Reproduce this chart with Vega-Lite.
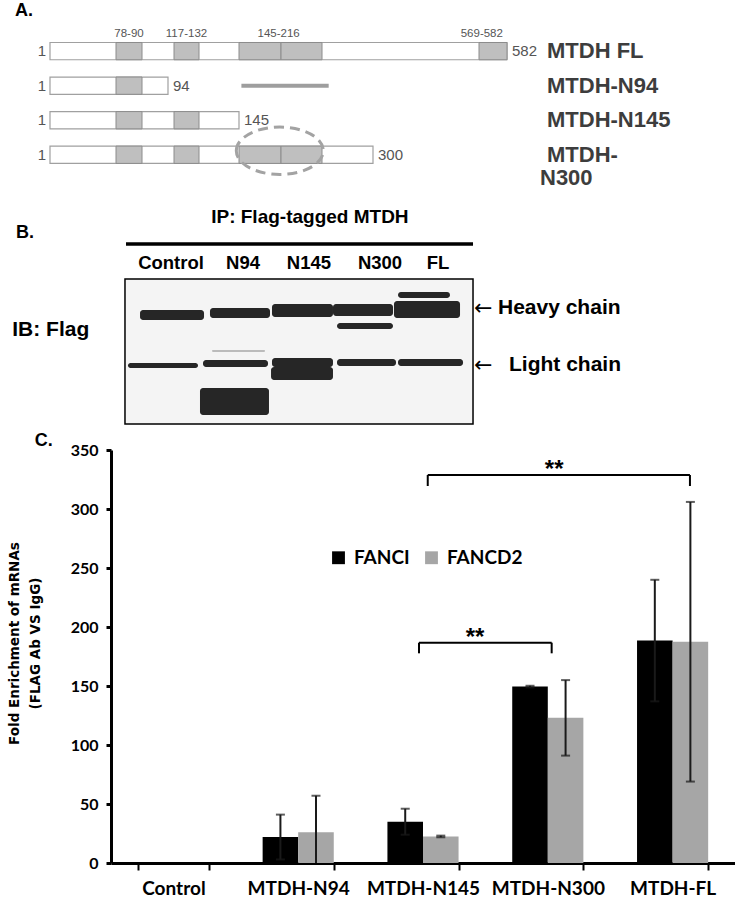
{
"$schema": "https://vega.github.io/schema/vega-lite/v6.json",
"padding": {"left": 7, "top": 0, "right": 0, "bottom": 0},
"spacing": 0,
"bounds": "flush",
"config": {"view": {"stroke": null}, "font": "Liberation Sans"},
"vconcat": [
{
  "width": 624, "height": 190,
  "data": {"values": [
    {"kind":"bar","construct":"MTDH FL","start":1,"end":582,"name":"MTDH FL"},
    {"kind":"bar","construct":"MTDH-N94","start":1,"end":94,"name":"MTDH-N94"},
    {"kind":"bar","construct":"MTDH-N145","start":1,"end":145,"name":"MTDH-N145"},
    {"kind":"bar","construct":"MTDH-N300","start":1,"end":300,"name":"MTDH-"},
    {"kind":"box","construct":"MTDH FL","start":78,"end":90},
    {"kind":"box","construct":"MTDH FL","start":117,"end":132},
    {"kind":"box","construct":"MTDH FL","start":145,"end":180},
    {"kind":"box","construct":"MTDH FL","start":180,"end":216},
    {"kind":"box","construct":"MTDH FL","start":569,"end":582},
    {"kind":"box","construct":"MTDH-N94","start":78,"end":90},
    {"kind":"box","construct":"MTDH-N145","start":78,"end":90},
    {"kind":"box","construct":"MTDH-N145","start":117,"end":132},
    {"kind":"box","construct":"MTDH-N300","start":78,"end":90},
    {"kind":"box","construct":"MTDH-N300","start":117,"end":132},
    {"kind":"box","construct":"MTDH-N300","start":145,"end":180},
    {"kind":"box","construct":"MTDH-N300","start":180,"end":216},
    {"kind":"line","construct":"MTDH-N94","start":147,"end":227},
    {"kind":"ellipse","construct":"MTDH-N300","start":179},
    {"kind":"range","construct":"MTDH FL","start":84,"label":"78-90"},
    {"kind":"range","construct":"MTDH FL","start":124.5,"label":"117-132"},
    {"kind":"range","construct":"MTDH FL","start":178,"label":"145-216"},
    {"kind":"range","construct":"MTDH FL","start":570.3,"label":"569-582"}
  ]},
  "encoding": {
    "x": {"field":"start","type":"quantitative","scale":{"domain":[1,78,90,94,117,132,145,180,216,300,569,582],"range":[-61,5,31,57,63,88,128,170,211,262,368,396],"zero":false,"nice":false},"axis":null},
    "y": {"field":"construct","type":"nominal","scale":{"domain":["MTDH FL","MTDH-N94","MTDH-N145","MTDH-N300"],"paddingInner":0.5,"paddingOuter":1.02,"align":0.615},"axis":null}
  },
  "layer": [
    {"transform":[{"filter":"datum.kind === 'bar'"}],
     "mark":{"type":"rect","fill":"white","stroke":"#a0a0a0","strokeWidth":1.2},
     "encoding":{"x2":{"field":"end"}}},
    {"transform":[{"filter":"datum.kind === 'box'"}],
     "mark":{"type":"rect","fill":"#bfbfbf","stroke":"#8c8c8c","strokeWidth":1},
     "encoding":{"x2":{"field":"end"}}},
    {"transform":[{"filter":"datum.kind === 'line'"}],
     "mark":{"type":"rule","strokeWidth":4,"color":"#9e9e9e"},
     "encoding":{"x2":{"field":"end"}}},
    {"transform":[{"filter":"datum.kind === 'ellipse'"}],
     "mark":{"type":"point","shape":"M -1 0 A 1 0.545 0 1 1 1 0 A 1 0.545 0 1 1 -1 0 Z","size":7569,"filled":false,"color":"#a3a3a3","strokeWidth":3,"strokeDash":[10,6],"opacity":1,"yOffset":-4}},
    {"transform":[{"filter":"datum.kind === 'bar'"}],
     "mark":{"type":"text","align":"right","baseline":"middle","dx":-4,"fontSize":15,"color":"#555555"},
     "encoding":{"text":{"field":"start"}}},
    {"transform":[{"filter":"datum.kind === 'bar'"}],
     "mark":{"type":"text","align":"left","baseline":"middle","dx":5,"fontSize":15,"color":"#555555"},
     "encoding":{"x":{"field":"end","type":"quantitative","scale":{"domain":[1,78,90,94,117,132,145,180,216,300,569,582],"range":[-61,5,31,57,63,88,128,170,211,262,368,396],"zero":false,"nice":false},"axis":null},"text":{"field":"end"}}},
    {"transform":[{"filter":"datum.kind === 'range'"}],
     "mark":{"type":"text","align":"center","baseline":"middle","dy":-17,"fontSize":11.5,"color":"#555555"},
     "encoding":{"text":{"field":"label"}}},
    {"transform":[{"filter":"datum.kind === 'bar'"}],
     "mark":{"type":"text","align":"left","baseline":"middle","dx":40,"fontSize":22,"fontWeight":"bold","color":"#3d3d3d"},
     "encoding":{"x":{"datum":582,"type":"quantitative","scale":{"domain":[1,78,90,94,117,132,145,180,216,300,569,582],"range":[-61,5,31,57,63,88,128,170,211,262,368,396],"zero":false,"nice":false},"axis":null},"text":{"field":"name"}}},
    {"transform":[{"filter":"datum.kind === 'bar' && datum.construct === 'MTDH-N300'"}],
     "mark":{"type":"text","align":"left","baseline":"middle","dx":33,"dy":23,"fontSize":22,"fontWeight":"bold","color":"#3d3d3d"},
     "encoding":{"x":{"datum":582,"type":"quantitative","scale":{"domain":[1,78,90,94,117,132,145,180,216,300,569,582],"range":[-61,5,31,57,63,88,128,170,211,262,368,396],"zero":false,"nice":false},"axis":null},"text":{"value":"N300"}}},
    {"transform":[{"filter":"datum.kind === 'bar' && datum.construct === 'MTDH FL'"}],
     "mark":{"type":"text","align":"left","baseline":"middle","dx":-35,"dy":-40,"fontSize":18,"fontWeight":"bold","color":"black"},
     "encoding":{"text":{"value":"A."}}}
  ]
},
{
  "width": 624, "height": 260,
  "data": {"values": [
    {"kind":"frame","u0":-0.719,"u1":4.719,"m0":0,"m1":100},
    {"kind":"rule","u0":-0.703,"u1":4.719,"m0":-24.1},
    {"kind":"band","lane":"Control","band":"heavy","u0":-0.484,"u1":0.516,"m0":21.4,"m1":28.3,"intensity":1},
    {"kind":"band","lane":"N94","band":"heavy","u0":0.609,"u1":1.547,"m0":20.0,"m1":26.9,"intensity":1},
    {"kind":"band","lane":"N145","band":"heavy","u0":1.578,"u1":2.531,"m0":17.2,"m1":26.2,"intensity":1},
    {"kind":"band","lane":"N300","band":"heavy","u0":2.531,"u1":3.469,"m0":17.2,"m1":25.5,"intensity":1},
    {"kind":"band","lane":"FL","band":"heavy","u0":3.484,"u1":4.516,"m0":15.2,"m1":26.9,"intensity":1},
    {"kind":"band","lane":"FL","band":"MTDH-FL","u0":3.547,"u1":4.359,"m0":9.0,"m1":13.1,"intensity":1},
    {"kind":"band","lane":"N300","band":"MTDH-N300","u0":2.594,"u1":3.469,"m0":30.3,"m1":34.5,"intensity":1},
    {"kind":"band","lane":"Control","band":"light","u0":-0.672,"u1":0.422,"m0":57.9,"m1":61.4,"intensity":1},
    {"kind":"band","lane":"N94","band":"light","u0":0.5,"u1":1.516,"m0":55.9,"m1":60.7,"intensity":1},
    {"kind":"band","lane":"N145","band":"light","u0":1.578,"u1":2.531,"m0":54.5,"m1":60.7,"intensity":1},
    {"kind":"band","lane":"N300","band":"light","u0":2.594,"u1":3.516,"m0":55.2,"m1":60.0,"intensity":1},
    {"kind":"band","lane":"FL","band":"light","u0":3.547,"u1":4.563,"m0":55.2,"m1":60.0,"intensity":1},
    {"kind":"band","lane":"N145","band":"MTDH-N145","u0":1.563,"u1":2.531,"m0":60.7,"m1":69.7,"intensity":1},
    {"kind":"band","lane":"N94","band":"MTDH-N94","u0":0.453,"u1":1.531,"m0":75.2,"m1":93.8,"intensity":1},
    {"kind":"band","lane":"N94","band":"faint","u0":0.641,"u1":1.469,"m0":49.0,"m1":50.3,"intensity":0.25},
    {"kind":"lane","label":"Control","u0":0,"m0":-11},
    {"kind":"lane","label":"N94","u0":1.125,"m0":-11},
    {"kind":"lane","label":"N145","u0":2.156,"m0":-11},
    {"kind":"lane","label":"N300","u0":3.266,"m0":-11},
    {"kind":"lane","label":"FL","u0":4.172,"m0":-11},
    {"kind":"title","label":"IP: Flag-tagged MTDH","u0":2.17,"m0":-42.8},
    {"kind":"panel","label":"B.","u0":-2.42,"m0":-31.7},
    {"kind":"side","label":"IB: Flag","u0":-2.48,"m0":35.2},
    {"kind":"side","label":"Heavy chain","u0":5.109,"m0":20},
    {"kind":"side","label":"Light chain","u0":5.281,"m0":59.3},
    {"kind":"arrow","label":"←","u0":4.734,"m0":20},
    {"kind":"arrow","label":"←","u0":4.734,"m0":59.3}
  ]},
  "encoding": {
    "x": {"field":"u0","type":"quantitative","scale":{"domain":[-0.9375,8.8125],"zero":false,"nice":false},"axis":null},
    "y": {"field":"m0","type":"quantitative","scale":{"domain":[-61.4,117.9],"reverse":true,"zero":false,"nice":false},"axis":null}
  },
  "layer": [
    {"transform":[{"filter":"datum.kind === 'frame'"}],
     "mark":{"type":"rect","fill":"#f4f4f4","stroke":"black","strokeWidth":1.5},
     "encoding":{"x2":{"field":"u1"},"y2":{"field":"m1"}}},
    {"transform":[{"filter":"datum.kind === 'band'"}],
     "mark":{"type":"rect","cornerRadius":3},
     "encoding":{"x2":{"field":"u1"},"y2":{"field":"m1"},
       "color":{"field":"intensity","type":"quantitative","scale":{"domain":[0,1],"range":["#f4f4f4","#262626"]},"legend":null}}},
    {"transform":[{"filter":"datum.kind === 'rule'"}],
     "mark":{"type":"rule","strokeWidth":3.5,"color":"black"},
     "encoding":{"x2":{"field":"u1"}}},
    {"transform":[{"filter":"datum.kind === 'lane'"}],
     "mark":{"type":"text","align":"center","baseline":"middle","fontSize":18.5,"fontWeight":"bold","color":"black"},
     "encoding":{"text":{"field":"label"}}},
    {"transform":[{"filter":"datum.kind === 'title'"}],
     "mark":{"type":"text","align":"center","baseline":"middle","fontSize":19,"fontWeight":"bold","color":"black"},
     "encoding":{"text":{"field":"label"}}},
    {"transform":[{"filter":"datum.kind === 'panel'"}],
     "mark":{"type":"text","align":"left","baseline":"middle","fontSize":18,"fontWeight":"bold","color":"black"},
     "encoding":{"text":{"field":"label"}}},
    {"transform":[{"filter":"datum.kind === 'side'"}],
     "mark":{"type":"text","align":"left","baseline":"middle","fontSize":21,"fontWeight":"bold","color":"black"},
     "encoding":{"text":{"field":"label"}}},
    {"transform":[{"filter":"datum.kind === 'arrow'"}],
     "mark":{"type":"text","align":"left","baseline":"middle","fontSize":22,"font":"DejaVu Sans","color":"black"},
     "encoding":{"text":{"field":"label"}}}
  ]
},
{
  "width": 624, "height": 413,
  "resolve": {"scale": {"x": "independent"}},
  "layer": [
    {
      "data": {"values": [
        {"construct":"Control","gene":"FANCI","mean":0,"lo":0,"hi":0},
        {"construct":"Control","gene":"FANCD2","mean":0,"lo":0,"hi":0},
        {"construct":"MTDH-N94","gene":"FANCI","mean":22,"lo":3,"hi":41},
        {"construct":"MTDH-N94","gene":"FANCD2","mean":26,"lo":0,"hi":57},
        {"construct":"MTDH-N145","gene":"FANCI","mean":35,"lo":24,"hi":46},
        {"construct":"MTDH-N145","gene":"FANCD2","mean":22.5,"lo":21.8,"hi":23.2},
        {"construct":"MTDH-N300","gene":"FANCI","mean":149.5,"lo":148.8,"hi":150.2},
        {"construct":"MTDH-N300","gene":"FANCD2","mean":123,"lo":91,"hi":155},
        {"construct":"MTDH-FL","gene":"FANCI","mean":188.5,"lo":137,"hi":240},
        {"construct":"MTDH-FL","gene":"FANCD2","mean":187.5,"lo":69,"hi":306}
      ]},
      "encoding": {
        "x": {"field":"construct","type":"nominal","scale":{"domain":["Control","MTDH-N94","MTDH-N145","MTDH-N300","MTDH-FL"],"paddingInner":0.43,"paddingOuter":0.215},
              "axis":{"title":null,"labelFont":"Lato","labelFontWeight":"bold","labelFontSize":19,"labelColor":"black","labelPadding":9,"labelAngle":0,"tickSize":7,"tickWidth":2,"tickColor":"black","domainColor":"black","domainWidth":3,"tickBand":"extent","grid":false}},
        "xOffset": {"field":"gene","type":"nominal","scale":{"domain":["FANCI","FANCD2"],"paddingInner":0,"paddingOuter":0}}
      },
      "layer": [
        {"mark":{"type":"bar"},
         "encoding":{
           "y":{"field":"mean","type":"quantitative","scale":{"domain":[0,350],"nice":false,"zero":true},
                "axis":{"values":[0,50,100,150,200,250,300,350],"grid":false,"title":["Fold  Enrichment of mRNAs","(FLAG Ab VS IgG)"],"titleFont":"DejaVu Sans","titleFontWeight":"bold","titleFontSize":13.5,"titleLineHeight":21,"titleColor":"black","titleX":-104,"titleY":193,"titleBaseline":"top","titleAlign":"center","titleAngle":270,"labelFont":"Lato","labelFontWeight":"bold","labelFontSize":16,"labelColor":"black","labelPadding":8,"tickSize":5,"tickWidth":3,"tickColor":"black","domainColor":"black","domainWidth":3}},
           "color":{"field":"gene","type":"nominal","scale":{"domain":["FANCI","FANCD2"],"range":["#000000","#a6a6a6"]},
                    "legend":{"title":null,"orient":"none","legendX":218,"legendY":98,"direction":"horizontal","symbolType":"square","symbolSize":165,"symbolStrokeWidth":0,"labelFont":"Lato","labelFontWeight":"bold","labelFontSize":19,"labelColor":"black","labelOffset":6,"columnPadding":12,"padding":0}}}},
        {"transform":[{"filter":"datum.hi > datum.mean"}],
         "mark":{"type":"rule","strokeWidth":2,"color":"#1a1a1a"},
         "encoding":{"y":{"field":"lo","type":"quantitative","scale":{"domain":[0,350],"nice":false,"zero":true},
                "axis":{"values":[0,50,100,150,200,250,300,350],"grid":false,"title":["Fold  Enrichment of mRNAs","(FLAG Ab VS IgG)"],"titleFont":"DejaVu Sans","titleFontWeight":"bold","titleFontSize":13.5,"titleLineHeight":21,"titleColor":"black","titleX":-104,"titleY":193,"titleBaseline":"top","titleAlign":"center","titleAngle":270,"labelFont":"Lato","labelFontWeight":"bold","labelFontSize":16,"labelColor":"black","labelPadding":8,"tickSize":5,"tickWidth":3,"tickColor":"black","domainColor":"black","domainWidth":3}},
                     "y2":{"field":"hi"}}},
        {"transform":[{"filter":"datum.hi > datum.mean"},{"fold":["lo","hi"],"as":["end","val"]},{"filter":"datum.val > 0"}],
         "mark":{"type":"tick","size":9,"thickness":2,"color":"#1a1a1a"},
         "encoding":{"y":{"field":"val","type":"quantitative","scale":{"domain":[0,350],"nice":false,"zero":true},
                "axis":{"values":[0,50,100,150,200,250,300,350],"grid":false,"title":["Fold  Enrichment of mRNAs","(FLAG Ab VS IgG)"],"titleFont":"DejaVu Sans","titleFontWeight":"bold","titleFontSize":13.5,"titleLineHeight":21,"titleColor":"black","titleX":-104,"titleY":193,"titleBaseline":"top","titleAlign":"center","titleAngle":270,"labelFont":"Lato","labelFontWeight":"bold","labelFontSize":16,"labelColor":"black","labelPadding":8,"tickSize":5,"tickWidth":3,"tickColor":"black","domainColor":"black","domainWidth":3}}}}
      ]
    },
    {
      "data": {"values": [
        {"pair":"MTDH-N145 vs MTDH-FL","x1":2.538,"x2":4.639,"top":328.8,"leg":319.5,"star":3.551,"starY":333,"label":"**"},
        {"pair":"MTDH-N145 vs MTDH-N300","x1":2.468,"x2":3.531,"top":186.7,"leg":177.7,"star":2.917,"starY":190.5,"label":"**"}
      ]},
      "encoding": {
        "y":{"field":"top","type":"quantitative","scale":{"domain":[0,350],"nice":false,"zero":true},
             "axis":{"values":[0,50,100,150,200,250,300,350],"grid":false,"title":["Fold  Enrichment of mRNAs","(FLAG Ab VS IgG)"],"titleFont":"DejaVu Sans","titleFontWeight":"bold","titleFontSize":13.5,"titleLineHeight":21,"titleColor":"black","titleX":-104,"titleY":193,"titleBaseline":"top","titleAlign":"center","titleAngle":270,"labelFont":"Lato","labelFontWeight":"bold","labelFontSize":16,"labelColor":"black","labelPadding":8,"tickSize":5,"tickWidth":3,"tickColor":"black","domainColor":"black","domainWidth":3}}
      },
      "layer": [
        {"mark":{"type":"rule","strokeWidth":2,"color":"black"},
         "encoding":{"x":{"field":"x1","type":"quantitative","scale":{"domain":[0,5],"zero":false,"nice":false},"axis":null},
                     "x2":{"field":"x2"}}},
        {"mark":{"type":"rule","strokeWidth":2,"color":"black"},
         "encoding":{"x":{"field":"x1","type":"quantitative","scale":{"domain":[0,5],"zero":false,"nice":false},"axis":null},
                     "y2":{"field":"leg"}}},
        {"mark":{"type":"rule","strokeWidth":2,"color":"black"},
         "encoding":{"x":{"field":"x2","type":"quantitative","scale":{"domain":[0,5],"zero":false,"nice":false},"axis":null},
                     "y2":{"field":"leg"}}},
        {"mark":{"type":"text","align":"center","fontSize":24,"fontWeight":"bold","color":"black"},
         "encoding":{"x":{"field":"star","type":"quantitative","scale":{"domain":[0,5],"zero":false,"nice":false},"axis":null},
                     "y":{"field":"starY","type":"quantitative","scale":{"domain":[0,350],"nice":false,"zero":true},
                          "axis":{"values":[0,50,100,150,200,250,300,350],"grid":false,"title":["Fold  Enrichment of mRNAs","(FLAG Ab VS IgG)"],"titleFont":"DejaVu Sans","titleFontWeight":"bold","titleFontSize":13.5,"titleLineHeight":21,"titleColor":"black","titleX":-104,"titleY":193,"titleBaseline":"top","titleAlign":"center","titleAngle":270,"labelFont":"Lato","labelFontWeight":"bold","labelFontSize":16,"labelColor":"black","labelPadding":8,"tickSize":5,"tickWidth":3,"tickColor":"black","domainColor":"black","domainWidth":3}},
                     "text":{"field":"label"}}}
      ]
    },
    {
      "data": {"values": [{"label":"C."}]},
      "mark": {"type":"text","align":"left","baseline":"middle","fontSize":18,"fontWeight":"bold","color":"black"},
      "encoding": {
        "x":{"datum":-0.61,"type":"quantitative","scale":{"domain":[0,5],"zero":false,"nice":false},"axis":null},
        "y":{"datum":357.6,"type":"quantitative","scale":{"domain":[0,350],"nice":false,"zero":true},
             "axis":{"values":[0,50,100,150,200,250,300,350],"grid":false,"title":["Fold  Enrichment of mRNAs","(FLAG Ab VS IgG)"],"titleFont":"DejaVu Sans","titleFontWeight":"bold","titleFontSize":13.5,"titleLineHeight":21,"titleColor":"black","titleX":-104,"titleY":193,"titleBaseline":"top","titleAlign":"center","titleAngle":270,"labelFont":"Lato","labelFontWeight":"bold","labelFontSize":16,"labelColor":"black","labelPadding":8,"tickSize":5,"tickWidth":3,"tickColor":"black","domainColor":"black","domainWidth":3}},
        "text":{"field":"label"}
      }
    }
  ]
}
]
}
